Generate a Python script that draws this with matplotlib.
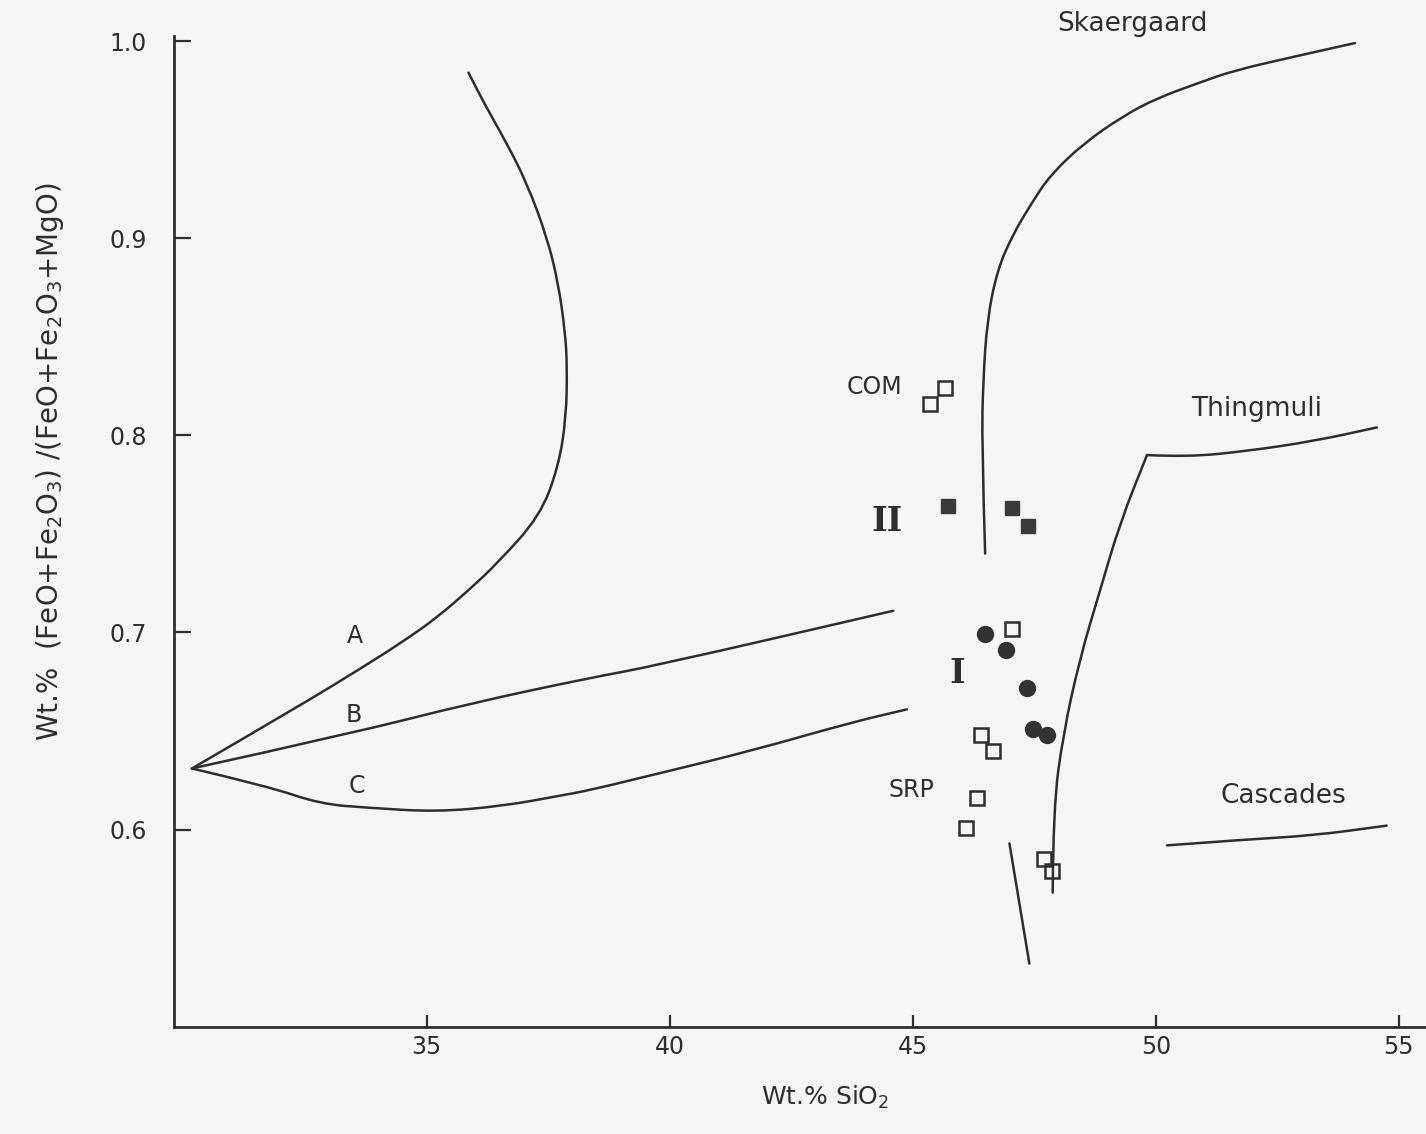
import numpy as np
import matplotlib.pyplot as plt
from matplotlib.path import Path
from matplotlib.patches import PathPatch

# --- trend curves (x = wt.% SiO2, y = Fe ratio) ---
curve_a_x = [30.17, 32.33, 33.63, 34.52, 35.21, 35.89, 36.45, 37.33, 37.71, 37.87,
             37.89, 37.85, 37.71, 37.47, 37.06, 36.65, 36.17, 35.86]
curve_a_y = [0.631, 0.662, 0.6815, 0.6955, 0.7075, 0.722, 0.735, 0.759, 0.784, 0.809,
             0.835, 0.852, 0.877, 0.901, 0.928, 0.948, 0.969, 0.984]

curve_b_x = [30.17, 33.49, 35.89, 38.36, 39.69, 44.60]
curve_b_y = [0.631, 0.649, 0.664, 0.677, 0.683, 0.711]

curve_c_x = [30.17, 31.73, 32.81, 33.83, 35.21, 36.58, 37.70, 38.36, 39.69, 41.69, 43.68, 44.88]
curve_c_y = [0.631, 0.622, 0.613, 0.611, 0.609, 0.612, 0.617, 0.620, 0.628, 0.640, 0.654, 0.661]

skaer_x = [46.49, 46.42, 46.45, 46.53, 46.73, 47.04, 47.45, 47.83, 48.51, 49.33,
           50.02, 50.91, 51.60, 52.83, 54.10]
skaer_y = [0.740, 0.796, 0.828, 0.858, 0.883, 0.901, 0.918, 0.932, 0.948, 0.962,
           0.971, 0.979, 0.985, 0.992, 0.999]

# Thingmuli has a sharp corner near 49.8 -> drawn as two pieces
thing_up_x = [47.88, 47.89, 48.10, 48.44, 48.85, 49.27, 49.82]
thing_up_y = [0.568, 0.611, 0.649, 0.687, 0.721, 0.756, 0.790]
thing_top_x = [49.82, 50.64, 51.87, 53.24, 54.55]
thing_top_y = [0.790, 0.789, 0.792, 0.797, 0.804]

casc_x = [50.23, 51.87, 53.24, 54.75]
casc_y = [0.592, 0.595, 0.597, 0.602]

short_x = [46.99, 47.40]
short_y = [0.593, 0.532]

# --- sample points ---
com_x = [45.35, 45.67]
com_y = [0.816, 0.824]

grp2_x = [45.73, 47.05, 47.38]
grp2_y = [0.764, 0.763, 0.754]

grp1_x = [46.49, 46.92, 47.36, 47.48, 47.76]
grp1_y = [0.699, 0.691, 0.672, 0.651, 0.648]

srp_x = [47.04, 46.40, 46.66, 46.32, 46.09, 47.71, 47.87]
srp_y = [0.702, 0.648, 0.640, 0.616, 0.601, 0.585, 0.579]

xticks = [35, 40, 45, 50, 55]
yticks = [0.6, 0.7, 0.8, 0.9, 1.0]

ink = '#2e2e2e'
paper = '#f5f5f3'


def smooth_curve(ax, xs, ys, **kw):
    # quadratic bezier through midpoints, drawn by matplotlib in data coords
    pts = list(zip(xs, ys))
    verts = [pts[0]]
    codes = [Path.MOVETO]
    for i in range(1, len(pts) - 1):
        mid = ((pts[i][0] + pts[i + 1][0]) / 2, (pts[i][1] + pts[i + 1][1]) / 2)
        verts += [pts[i], mid]
        codes += [Path.CURVE3, Path.CURVE3]
    verts.append(pts[-1])
    codes.append(Path.LINETO)
    ax.add_patch(PathPatch(Path(verts, codes), fill=False, **kw))


fig = plt.figure(figsize=(14.26, 11.34), dpi=100, facecolor=paper)
ax = fig.add_axes([0.1223, 0.0946, 0.8777, 0.8737])
ax.set_facecolor(paper)

line_kw = dict(edgecolor=ink, lw=1.8, capstyle='round', joinstyle='round')
for cx, cy in [(curve_a_x, curve_a_y), (curve_b_x, curve_b_y), (curve_c_x, curve_c_y),
               (skaer_x, skaer_y), (thing_up_x, thing_up_y), (thing_top_x, thing_top_y),
               (casc_x, casc_y), (short_x, short_y)]:
    smooth_curve(ax, cx, cy, **line_kw)

ax.plot(com_x, com_y, 's', ms=10, mfc='none', mec=ink, mew=1.8)
ax.plot(srp_x, srp_y, 's', ms=10, mfc='none', mec=ink, mew=1.8)
ax.plot(grp2_x, grp2_y, 's', ms=10, mfc='#3a3a3a', mec='#3a3a3a')
ax.plot(grp1_x, grp1_y, 'o', ms=11.5, mfc='#333333', mec='#333333')

ax.set_xlim(29.81, 55.56)
ax.set_ylim(0.50, 1.0026)
ax.spines['top'].set_visible(False)
ax.spines['right'].set_visible(False)
for s in ['left', 'bottom']:
    ax.spines[s].set_linewidth(2.0)
    ax.spines[s].set_color(ink)

ax.set_xticks(xticks)
ax.set_xticklabels([str(t) for t in xticks])
ax.set_yticks(yticks)
ax.set_yticklabels(['%.1f' % t for t in yticks])
ax.tick_params(axis='y', direction='in', length=12, width=1.6, color=ink,
               labelsize=17, labelcolor=ink, pad=20)
ax.tick_params(axis='x', direction='in', length=9, width=1.6, color=ink,
               labelsize=17, labelcolor=ink, pad=6)

txt = dict(color=ink, ha='center', va='center')
ax.text(33.53, 0.698, 'A', fontsize=17, **txt)
ax.text(33.49, 0.658, 'B', fontsize=17, **txt)
ax.text(33.56, 0.622, 'C', fontsize=17, **txt)
ax.text(44.22, 0.8245, 'COM', fontsize=17, **txt)
ax.text(44.98, 0.620, 'SRP', fontsize=17, **txt)
ax.text(44.47, 0.7565, 'II', fontsize=24, family='DejaVu Serif', weight='bold', **txt)
ax.text(45.92, 0.6794, 'I', fontsize=24, family='DejaVu Serif', weight='bold', **txt)
ax.text(49.53, 1.0087, 'Skaergaard', fontsize=19, clip_on=False, **txt)
ax.text(52.08, 0.8133, 'Thingmuli', fontsize=19, **txt)
ax.text(52.62, 0.617, 'Cascades', fontsize=19, **txt)

fig.text(0.5786, 0.0256, 'Wt.% SiO$_2$', fontsize=18, color=ink, ha='center', va='baseline')
fig.text(0.035, 1 - 462 / 1134, 'Wt.%  (FeO+Fe$_2$O$_3$) /(FeO+Fe$_2$O$_3$+MgO)',
         fontsize=20, color=ink, rotation=90, ha='center', va='center')

fig.savefig('out.png', dpi=100, facecolor=paper)
